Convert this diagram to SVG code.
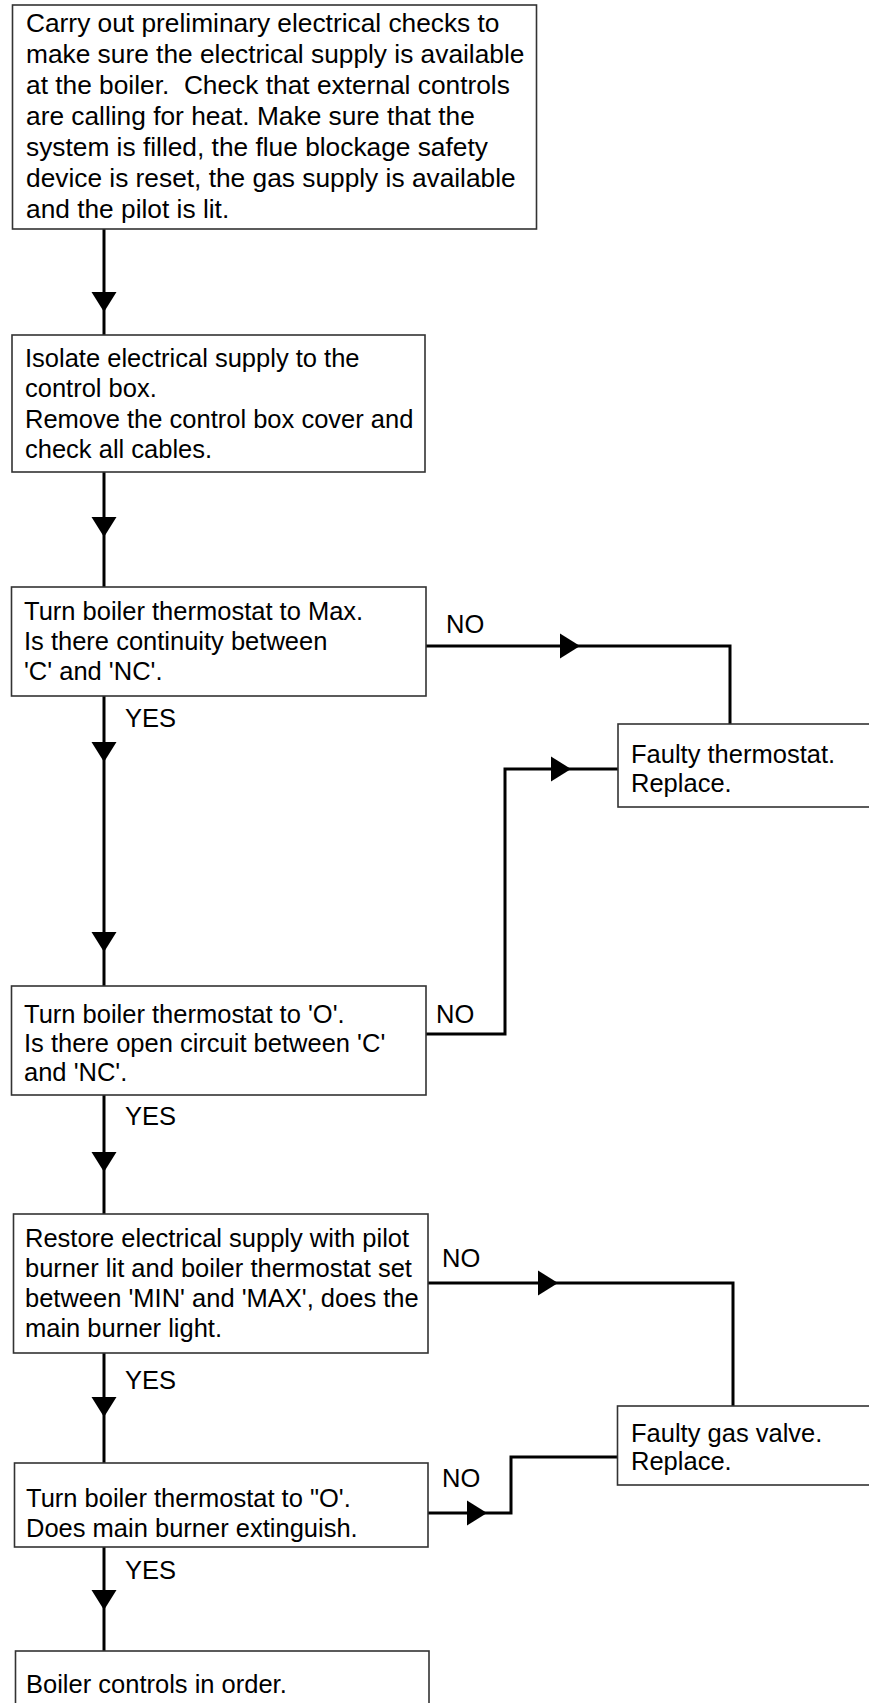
<svg xmlns="http://www.w3.org/2000/svg" xmlns:xlink="http://www.w3.org/1999/xlink" width="869" height="1703" viewBox="0 0 869 1703">
<style>
.box{fill:#fff;stroke:#333;stroke-width:1.6}
.t{font-family:"Liberation Sans",Arial,sans-serif;font-size:25.5px;fill:#000}
.big{font-size:26.3px}
.c{fill:none;stroke:#000;stroke-width:3}
.a{fill:#000}
</style>
<defs>
<path id="ad" d="M-12.5,0 L12.5,0 L0,20 Z"/>
<path id="ar" d="M0,-12.5 L0,12.5 L20,0 Z"/>
</defs>
<rect width="869" height="1703" fill="#fff"/>
<g id="connectors">
<path class="c" d="M104,229 V335"/>
<use href="#ad" class="a" x="104" y="292"/>
<path class="c" d="M104,472 V587"/>
<use href="#ad" class="a" x="104" y="517"/>
<path class="c" d="M104,696 V986"/>
<use href="#ad" class="a" x="104" y="742"/>
<use href="#ad" class="a" x="104" y="932"/>
<path class="c" d="M104,1095 V1214"/>
<use href="#ad" class="a" x="104" y="1152"/>
<path class="c" d="M104,1353 V1463"/>
<use href="#ad" class="a" x="104" y="1397"/>
<path class="c" d="M104,1547 V1651"/>
<use href="#ad" class="a" x="104" y="1590"/>
<path class="c" d="M426,646 H730 V724"/>
<use href="#ar" class="a" x="560" y="646"/>
<path class="c" d="M426,1034 H505 V769 H618"/>
<use href="#ar" class="a" x="551" y="769"/>
<path class="c" d="M428,1283 H733 V1406"/>
<use href="#ar" class="a" x="538" y="1283"/>
<path class="c" d="M428,1513 H511 V1457 H617"/>
<use href="#ar" class="a" x="467" y="1513"/>
<text class="t" x="446" y="633">NO</text>
<text class="t" x="125" y="727">YES</text>
<text class="t" x="436" y="1023">NO</text>
<text class="t" x="125" y="1125">YES</text>
<text class="t" x="442" y="1267">NO</text>
<text class="t" x="125" y="1389">YES</text>
<text class="t" x="442" y="1487">NO</text>
<text class="t" x="125" y="1579">YES</text>
</g>
<g id="n1">
<rect class="box" x="12.5" y="5" width="524" height="224"/>
<text class="t big" xml:space="preserve"><tspan x="26" y="32">Carry out preliminary electrical checks to</tspan><tspan x="26" y="63">make sure the electrical supply is available</tspan><tspan x="26" y="94">at the boiler.  Check that external controls</tspan><tspan x="26" y="125">are calling for heat. Make sure that the</tspan><tspan x="26" y="156">system is filled, the flue blockage safety</tspan><tspan x="26" y="187">device is reset, the gas supply is available</tspan><tspan x="26" y="218">and the pilot is lit.</tspan></text>
</g>
<g id="n2">
<rect class="box" x="12" y="335" width="413" height="137"/>
<text class="t"><tspan x="25" y="367">Isolate electrical supply to the</tspan><tspan x="25" y="397">control box.</tspan><tspan x="25" y="428">Remove the control box cover and</tspan><tspan x="25" y="458">check all cables.</tspan></text>
</g>
<g id="n3">
<rect class="box" x="11.5" y="587" width="414.5" height="109"/>
<text class="t"><tspan x="24" y="620">Turn boiler thermostat to Max.</tspan><tspan x="24" y="650">Is there continuity between</tspan><tspan x="24" y="680">'C' and 'NC'.</tspan></text>
</g>
<g id="n4">
<rect class="box" x="11.5" y="986" width="414.5" height="109"/>
<text class="t"><tspan x="24" y="1023">Turn boiler thermostat to 'O'.</tspan><tspan x="24" y="1052">Is there open circuit between 'C'</tspan><tspan x="24" y="1081">and 'NC'.</tspan></text>
</g>
<g id="n5">
<rect class="box" x="13.5" y="1214" width="414.5" height="139"/>
<text class="t"><tspan x="25" y="1247">Restore electrical supply with pilot</tspan><tspan x="25" y="1277">burner lit and boiler thermostat set</tspan><tspan x="25" y="1307">between 'MIN' and 'MAX', does the</tspan><tspan x="25" y="1337">main burner light.</tspan></text>
</g>
<g id="n6">
<rect class="box" x="14.5" y="1463" width="413.5" height="84"/>
<text class="t"><tspan x="26" y="1507">Turn boiler thermostat to "O'.</tspan><tspan x="26" y="1537">Does main burner extinguish.</tspan></text>
</g>
<g id="n7">
<rect class="box" x="15.5" y="1651" width="413.5" height="70"/>
<text class="t" x="26" y="1693">Boiler controls in order.</text>
</g>
<g id="f1">
<rect class="box" x="618" y="724" width="270" height="83"/>
<text class="t"><tspan x="631" y="763">Faulty thermostat.</tspan><tspan x="631" y="792">Replace.</tspan></text>
</g>
<g id="f2">
<rect class="box" x="617.5" y="1406" width="270" height="79"/>
<text class="t"><tspan x="631" y="1442">Faulty gas valve.</tspan><tspan x="631" y="1470">Replace.</tspan></text>
</g>
</svg>
